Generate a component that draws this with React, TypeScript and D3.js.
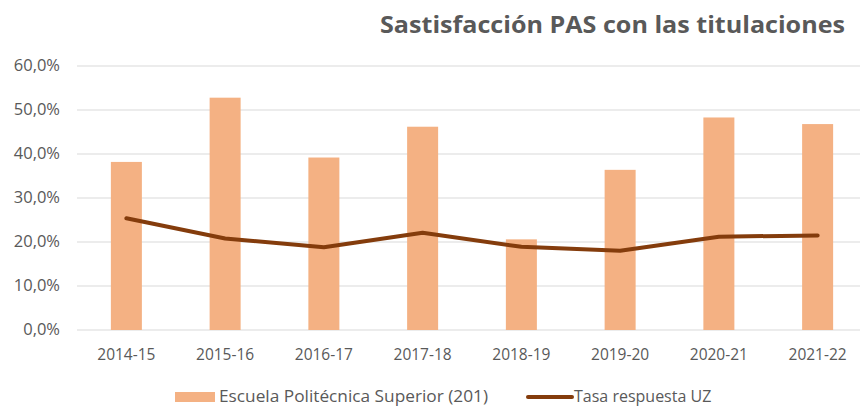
import React from "react";
import * as d3 from "d3";

// Data
const cursos = ["2014-15", "2015-16", "2016-17", "2017-18", "2018-19", "2019-20", "2020-21", "2021-22"];
const escuela = [38.2, 52.8, 39.2, 46.2, 20.6, 36.4, 48.3, 46.8];
const tasaUZ = [25.4, 20.8, 18.8, 22.1, 18.9, 18.0, 21.2, 21.5];
const yTicks = [0, 10, 20, 30, 40, 50, 60];

const W = 860;
const H = 409;
const font = "'Open Sans', Lato, sans-serif";
const textColor = "#595959";

const App = () => {
  // Scales
  const x = d3.scaleBand<string>()
    .domain(cursos)
    .range([77, 867])
    .paddingInner(0.686)
    .paddingOuter(0.343);
  const y = d3.scaleLinear().domain([0, 60]).range([330, 66]);

  const line = d3.line<number>()
    .x((d, i) => (x(cursos[i]) as number) + x.bandwidth() / 2)
    .y((d) => y(d));

  const fmt = (v: number) => v.toFixed(1).replace(".", ",") + "%";

  return (
    <svg width={W} height={H} style={{ position: "absolute", left: 0, top: 0 }}>
      <rect width={W} height={H} fill="#fff" />
      <text x={380} y={33} textLength={465} lengthAdjust="spacingAndGlyphs" fontFamily={font} fontWeight="bold" fontSize={24} fill={textColor}>
        Sastisfacción PAS con las titulaciones
      </text>

      {/* grid + y labels */}
      {yTicks.map((t) => (
        <g key={t}>
          <line x1={77} x2={860} y1={y(t)} y2={y(t)} stroke="#d9d9d9" strokeWidth={1} />
          <text x={60} y={y(t) + 5} textAnchor="end" fontFamily={font} fontSize={16.5} fill={textColor}>
            {fmt(t)}
          </text>
        </g>
      ))}

      {/* bars */}
      {escuela.map((v, i) => (
        <rect
          key={cursos[i]}
          x={x(cursos[i])}
          y={y(v)}
          width={x.bandwidth()}
          height={y(0) - y(v)}
          fill="#F4B183"
        />
      ))}

      {/* line */}
      <path d={line(tasaUZ) || ""} fill="none" stroke="#843C0C" strokeWidth={4} strokeLinecap="round" strokeLinejoin="round" />

      {/* x labels */}
      {cursos.map((c) => (
        <text key={c} x={(x(c) as number) + x.bandwidth() / 2} y={360} textAnchor="middle" fontFamily={font} fontSize={15.5} fill={textColor}>
          {c}
        </text>
      ))}

      {/* legend */}
      <rect x={175} y={392} width={40} height={10} fill="#F4B183" />
      <text x={219} y={402} textLength={269} lengthAdjust="spacingAndGlyphs" fontFamily={font} fontSize={16} fill={textColor}>
        Escuela Politécnica Superior (201)
      </text>
      <line x1={528} x2={572} y1={397} y2={397} stroke="#843C0C" strokeWidth={4} strokeLinecap="round" />
      <text x={574} y={402} fontFamily={font} fontSize={16} fill={textColor}>
        Tasa respuesta UZ
      </text>
    </svg>
  );
};

export default App;
